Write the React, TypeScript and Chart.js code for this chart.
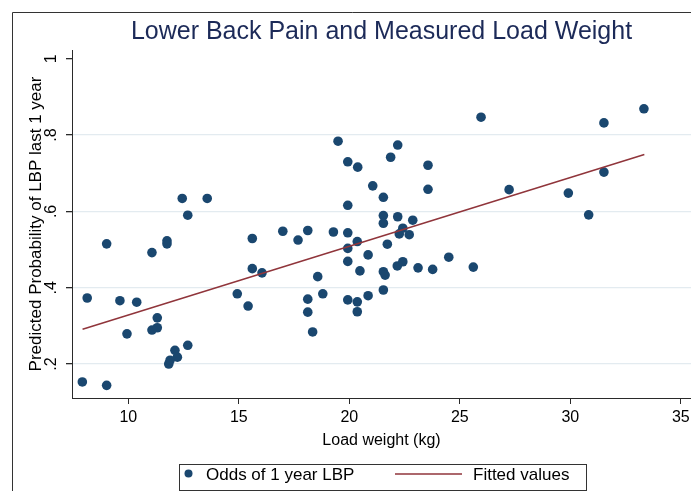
import React, { useEffect, useRef } from 'react';
import { Chart, registerables } from 'chart.js';

Chart.register(...registerables);

// ---- data ----
const loadWeight = [
  12.44, 13.57, 12.69, 9.02, 11.07, 11.75, 11.75, 15.61, 16.99, 15.61,
  16.05, 8.14, 9.62, 10.38, 14.93, 15.42, 11.31, 11.07, 11.31, 9.94,
  12.69, 12.11, 12.22, 11.83, 11.89, 7.92, 9.02, 19.49, 19.93, 20.38,
  22.19, 21.87, 23.56, 23.56, 21.06, 21.54, 19.93, 21.54, 22.19, 22.87,
  25.96, 21.54, 17.68, 18.12, 19.28, 19.93, 20.36, 19.93, 22.42, 22.26,
  22.71, 21.72, 20.85, 19.93, 20.48, 21.54, 21.62, 22.17, 22.42, 23.11,
  23.77, 24.5, 25.61, 18.57, 18.12, 18.8, 19.93, 20.36, 20.85, 21.54,
  20.36, 18.12, 18.34, 31.52, 33.33, 31.52, 27.23, 29.91, 30.83,
];
const probability = [
  0.634, 0.634, 0.59, 0.515, 0.492, 0.523, 0.515, 0.529, 0.548, 0.45,
  0.439, 0.373, 0.366, 0.362, 0.384, 0.352, 0.321, 0.289, 0.295, 0.279,
  0.249, 0.236, 0.218, 0.2, 0.21, 0.153, 0.144, 0.784, 0.73, 0.716,
  0.774, 0.742, 0.721, 0.658, 0.667, 0.637, 0.616, 0.589, 0.586, 0.577,
  0.847, 0.569, 0.525, 0.55, 0.546, 0.544, 0.521, 0.503, 0.556, 0.541,
  0.539, 0.514, 0.486, 0.469, 0.444, 0.442, 0.433, 0.457, 0.468, 0.452,
  0.448, 0.48, 0.454, 0.429, 0.37, 0.384, 0.368, 0.363, 0.379, 0.394,
  0.337, 0.336, 0.284, 0.832, 0.869, 0.703, 0.657, 0.648, 0.591,
];
const fitX = [7.93, 33.35];
const fitY = [0.291, 0.749];

const xTicks = [10, 15, 20, 25, 30, 35];
const yTicks = [0.2, 0.4, 0.6, 0.8, 1];
const yTickLabels = ['.2', '.4', '.6', '.8', '1'];
const seriesLabels = ['Odds of 1 year LBP', 'Fitted values'];
const titleText = 'Lower Back Pain and Measured Load Weight';
const xTitle = 'Load weight (kg)';
const yTitle = 'Predicted Probability of LBP last 1 year';

const FONT = '"Liberation Sans", Arial, Helvetica, sans-serif';
const NAVY = '#1a476f';
const MAROON = '#90353b';
const AXIS = '#2a2a2a';
const GRID = '#e3ebf0';

const decorPlugin = {
  id: 'stataDecor',
  beforeDraw(chart: any) {
    const ctx = chart.ctx;
    ctx.save();
    ctx.fillStyle = '#ffffff';
    ctx.fillRect(0, 0, chart.width, chart.height);
    ctx.strokeStyle = '#333333';
    ctx.lineWidth = 1;
    ctx.beginPath();
    ctx.moveTo(12.5, chart.height + 5);
    ctx.lineTo(12.5, 12.5);
    ctx.lineTo(chart.width + 5, 12.5);
    ctx.stroke();
    ctx.restore();
  },
  afterDraw(chart: any) {
    const ctx = chart.ctx;
    const ys = chart.scales.y;
    ctx.save();
    // rotated y tick labels (Stata style)
    ctx.fillStyle = '#000000';
    ctx.font = `16px ${FONT}`;
    ctx.textAlign = 'center';
    ctx.textBaseline = 'middle';
    yTicks.forEach((v, i) => {
      const py = ys.getPixelForValue(v);
      ctx.save();
      ctx.translate(52, py);
      ctx.rotate(-Math.PI / 2);
      ctx.fillText(yTickLabels[i], 0, 0);
      ctx.restore();
    });

    // legend box
    const ds = chart.data.datasets;
    ctx.strokeStyle = '#333333';
    ctx.lineWidth = 1;
    ctx.strokeRect(179.5, 464.5, 407, 26);
    const ly = 475;
    ctx.fillStyle = ds[1].backgroundColor;
    ctx.beginPath();
    ctx.arc(188.5, 473.5, 4, 0, Math.PI * 2);
    ctx.fill();
    ctx.fillStyle = '#000000';
    ctx.font = `17px ${FONT}`;
    ctx.textAlign = 'left';
    ctx.textBaseline = 'middle';
    ctx.fillText(ds[1].label, 206, ly);
    ctx.strokeStyle = ds[0].borderColor;
    ctx.lineWidth = 1.5;
    ctx.beginPath();
    ctx.moveTo(395, 474);
    ctx.lineTo(462, 474);
    ctx.stroke();
    ctx.fillText(ds[0].label, 473, ly);
    ctx.restore();
  },
};

export default function App() {
  const ref = useRef<HTMLCanvasElement>(null);

  useEffect(() => {
    if (!ref.current) return;
    const chart = new Chart(ref.current, {
      type: 'scatter',
      data: {
        datasets: [
          {
            type: 'line',
            label: seriesLabels[1],
            data: fitX.map((x, i) => ({ x, y: fitY[i] })),
            borderColor: MAROON,
            borderWidth: 1.5,
            pointRadius: 0,
            fill: false,
            order: 0,
          } as any,
          {
            type: 'scatter',
            label: seriesLabels[0],
            data: loadWeight.map((x, i) => ({ x, y: probability[i] })),
            backgroundColor: NAVY,
            borderColor: NAVY,
            borderWidth: 0,
            pointRadius: 4.8,
            order: 1,
          },
        ],
      },
      options: {
        responsive: false,
        animation: false,
        devicePixelRatio: 1,
        layout: { autoPadding: false, padding: { left: 0, right: 0, top: 0, bottom: 0 } },
        plugins: {
          legend: { display: false },
          tooltip: { enabled: false },
          title: {
            display: true,
            text: titleText,
            color: '#1c2a58',
            fullSize: false,
            font: { family: FONT, size: 25, weight: 'normal' },
            padding: { top: 17, bottom: 3 },
          },
        },
        scales: {
          x: {
            type: 'linear',
            min: 7.452,
            max: 35.46,
            afterFit: (s: any) => { s.height = 93; s.paddingRight = 0; s.paddingLeft = 0; },
            afterBuildTicks: (s: any) => { s.ticks = xTicks.map((v) => ({ value: v })); },
            grid: { drawOnChartArea: false, drawTicks: true, tickLength: 6, color: AXIS },
            border: { display: true, color: AXIS, width: 1 },
            ticks: {
              color: '#000000',
              padding: 4,
              maxRotation: 0,
              font: { family: FONT, size: 16 },
              callback: (v: any) => String(v),
            },
            title: {
              display: true,
              text: xTitle,
              color: '#000000',
              font: { family: FONT, size: 16 },
              padding: { top: 0, bottom: 41 },
            },
          },
          y: {
            type: 'linear',
            min: 0.1109,
            max: 1.0231,
            afterFit: (s: any) => { s.width = 72; s.paddingTop = 0; s.paddingBottom = 0; },
            afterBuildTicks: (s: any) => { s.ticks = yTicks.map((v) => ({ value: v })); },
            grid: {
              drawTicks: true,
              tickLength: 6,
              tickColor: AXIS,
              color: (c: any) => (c.tick && c.tick.value === 1 ? 'rgba(0,0,0,0)' : GRID),
              lineWidth: 1.3,
            },
            border: { display: true, color: AXIS, width: 1 },
            ticks: { display: false },
            title: {
              display: true,
              text: yTitle,
              color: '#000000',
              font: { family: FONT, size: 17 },
              padding: { top: 26, bottom: 0 },
            },
          },
        },
      },
      plugins: [decorPlugin],
    });
    return () => chart.destroy();
  }, []);

  return (
    <div style={{ position: 'fixed', left: 0, top: 0, width: 691, height: 491, background: '#fff' }}>
      <canvas ref={ref} width={691} height={491} style={{ width: 691, height: 491, display: 'block' }} />
    </div>
  );
}
